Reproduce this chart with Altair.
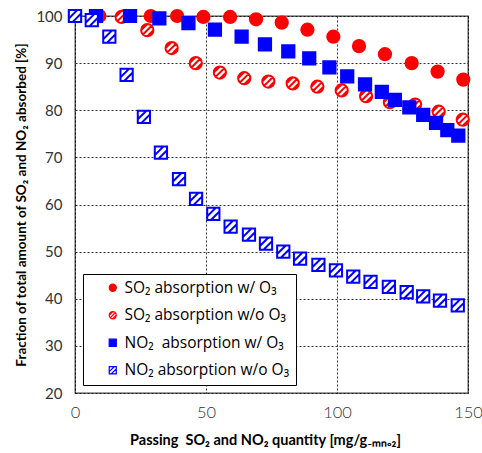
import altair as alt
import pandas as pd

PAD = "\u00a0" * 6
SERIES = [
    "SO₂ absorption w/ O₃" + PAD,
    "SO₂ absorption w/o O₃" + PAD,
    "NO₂\u00a0 absorption w/ O₃" + PAD,
    "NO₂ absorption w/o O₃" + PAD,
]

so2_w_x = [0, 9.3, 19, 28.9, 39, 49, 59.2, 69.1, 78.9, 88.7, 98.6, 108.4, 118.3, 128.5, 138.4, 148.2]
so2_w_y = [100, 100, 100, 100, 100, 99.8, 99.8, 99.3, 98.6, 97.1, 95.6, 93.6, 91.9, 90.0, 88.2, 86.5]

so2_wo_x = [0, 8.8, 17.8, 27.6, 36.9, 46.1, 55.3, 64.6, 73.8, 83.1, 92.5, 101.8, 111.1, 120.2, 129.8, 138.8, 148.0]
so2_wo_y = [100, 100, 99.8, 97.0, 93.2, 90.0, 88.0, 86.8, 86.1, 85.7, 85.0, 84.2, 83.0, 81.7, 81.2, 79.7, 78.0]

no2_w_x = [0, 8, 21, 32.2, 43.3, 53.4, 63.6, 72.5, 81.4, 89.4, 97.1, 103.9, 110.7, 117.1, 122.1, 127.6, 132.9, 137.8, 142.1, 146.3]
no2_w_y = [100, 100, 100, 99.5, 98.5, 97.1, 95.6, 94.0, 92.5, 91.0, 89.1, 87.2, 85.5, 83.9, 82.2, 80.6, 79.0, 77.3, 75.8, 74.6]

no2_wo_x = [0, 6.4, 13.1, 19.7, 26.3, 32.8, 39.7, 46.2, 52.8, 59.4, 66.4, 72.9, 79.5, 85.9, 92.9, 99.6, 106.2, 112.8, 119.8, 126.6, 132.9, 139.3, 146.1]
no2_wo_y = [100, 99.1, 95.6, 87.5, 78.6, 71.0, 65.4, 61.2, 58.0, 55.3, 53.6, 51.7, 50.0, 48.5, 47.2, 46.0, 44.7, 43.6, 42.5, 41.4, 40.5, 39.6, 38.6]

x_ticks = [0, 50, 100, 150]
y_ticks = [20, 30, 40, 50, 60, 70, 80, 90, 100]

HATCH_CIRCLE = ("M1,0 A1,1 0 1,1 -1,0 A1,1 0 1,1 1,0 Z "
                "M0.707,-0.707 L-0.707,0.707 M1,0 L0,1 M0,-1 L-1,0")
HATCH_SQUARE = ("M-1,-1 L1,-1 L1,1 L-1,1 Z "
                "M1,-0.4 L-0.4,1 M0.4,-1 L-1,0.4")

rows = []
for name, xs, ys in [
    (SERIES[0], so2_w_x, so2_w_y),
    (SERIES[1], so2_wo_x, so2_wo_y),
    (SERIES[2], no2_w_x, no2_w_y),
    (SERIES[3], no2_wo_x, no2_wo_y),
]:
    for xv, yv in zip(xs, ys):
        rows.append({"x": xv, "y": yv, "series": name})
df = pd.DataFrame(rows)

leg = alt.Legend(title=None)

chart = alt.Chart(df).mark_point(
    size=150, strokeWidth=2, opacity=1, fillOpacity=1, strokeOpacity=1, filled=True
).encode(
    x=alt.X("x:Q",
            scale=alt.Scale(domain=[0, 150], nice=False),
            axis=alt.Axis(values=x_ticks, labelFlush=False,
                          title="Passing\u00a0 SO₂ and NO₂ quantity [mg/g₋ₘₙₒ₂]",
                          titleX=190, titleY=47, titleBaseline="middle", titleAlign="center",
                          labelFontSize=16.5, labelFont="Lato", labelFontWeight=300,
                          labelColor="#333333", labelPadding=11,
                          titleFontSize=14.5, titleFont="Lato", titleFontWeight="bold")),
    y=alt.Y("y:Q",
            scale=alt.Scale(domain=[20, 100], nice=False, zero=False),
            axis=alt.Axis(values=y_ticks, labelFlush=False,
                          title="Fraction of total amount of SO₂ and NO₂ absorbed [%]",
                          titleX=-54, titleY=188.5, titleBaseline="middle", titleAlign="center",
                          labelFontSize=15, labelFont="Lato",
                          labelColor="#333333", labelPadding=13,
                          titleFontSize=13.5, titleFont="Lato", titleFontWeight="bold")),
    shape=alt.Shape("series:N",
                    scale=alt.Scale(domain=SERIES, range=["circle", HATCH_CIRCLE, "square", HATCH_SQUARE]),
                    legend=leg),
    fill=alt.Fill("series:N",
                  scale=alt.Scale(domain=SERIES, range=["#ff0000", "#ffffff", "#0000ff", "#ffffff"]),
                  legend=leg),
    stroke=alt.Stroke("series:N",
                      scale=alt.Scale(domain=SERIES, range=["#ff0000", "#ff0000", "#0000ff", "#0000ff"]),
                      legend=leg),
).properties(
    width=393, height=377,
    autosize=alt.AutoSizeParams(type="none"),
    padding={"left": 75, "top": 16, "right": 14, "bottom": 60},
).configure_view(
    stroke="#444444", strokeWidth=1.3
).configure_axis(
    domain=False, ticks=False, tickSize=0,
    grid=True, gridColor="#000000", gridDash=[2, 2], gridWidth=0.8, gridOpacity=1,
    titleColor="#000000"
).configure_legend(
    orient="bottom-left", offset=8, padding=6,
    strokeColor="#000000", fillColor="#ffffff",
    labelFont="Open Sans", labelFontSize=15.5, labelColor="#000000",
    symbolSize=50, symbolStrokeWidth=1.2, symbolOffset=16, labelOffset=4,
    rowPadding=10.5, labelLimit=400
)

chart.save("out.html", embed_options={"renderer": "svg", "actions": False})
